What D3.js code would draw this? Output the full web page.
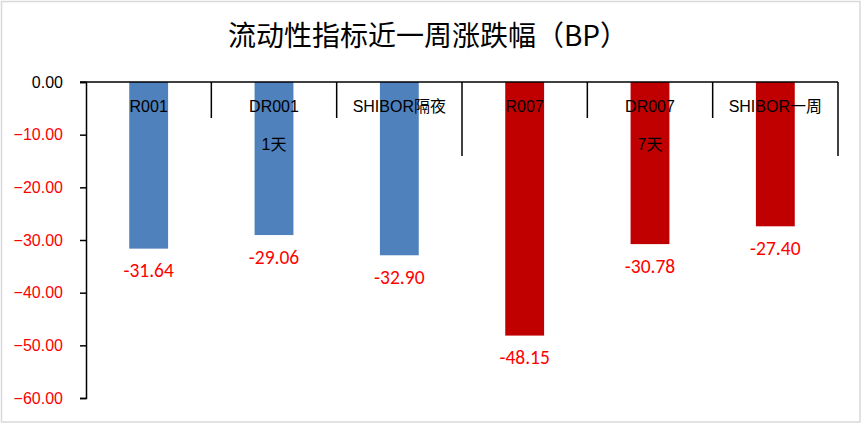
<!DOCTYPE html>
<html><head><meta charset="utf-8">
<script src="https://cdn.jsdelivr.net/npm/d3@7/dist/d3.min.js"></script>
<style>
html,body{margin:0;padding:0;background:#fff;}
svg{display:block;}
</style>
</head><body>
<svg id="chart" width="862" height="424"></svg>
<script>
const title = "流动性指标近一周涨跌幅（BP）";
const categories = ["R001", "DR001 1天", "SHIBOR隔夜", "R007", "DR007 7天", "SHIBOR一周"];
const values = [-31.64, -29.06, -32.90, -48.15, -30.78, -27.40];
const barColors = ["#4F81BD", "#4F81BD", "#4F81BD", "#C00000", "#C00000", "#C00000"];
const yTicks = [0, -10, -20, -30, -40, -50, -60];
const tallTickIdx = [3, 6];

const W = 862, H = 424;
const m = {left: 86, right: 24, top: 82, bottom: 26};
const svg = d3.select("#chart");

svg.append("rect").attr("x", 1.5).attr("y", 1.5).attr("width", W - 3.5).attr("height", H - 3.5)
  .attr("fill", "#fff").attr("stroke", "#d9d9d9").attr("stroke-width", 1.5);

svg.append("text").attr("x", 428).attr("y", 46).attr("text-anchor", "middle")
  .attr("font-family", "'Noto Sans CJK SC', sans-serif").attr("font-size", 28).attr("fill", "#000")
  .text(title);

const x = d3.scaleBand().domain(categories).range([m.left, W - m.right]).padding(0);
const y = d3.scaleLinear().domain([0, -60]).range([m.top, H - m.bottom]);
const bw = x.bandwidth() * 0.31;

// bars
svg.append("g").selectAll("rect").data(categories).join("rect")
  .attr("x", (d) => x(d) + (x.bandwidth() - bw) / 2)
  .attr("y", y(0))
  .attr("width", bw)
  .attr("height", (d, i) => y(values[i]) - y(0))
  .attr("fill", (d, i) => barColors[i]);

// value labels
svg.append("g").selectAll("text").data(categories).join("text")
  .attr("x", (d) => x(d) + x.bandwidth() / 2)
  .attr("y", (d, i) => y(values[i]) + 28.5)
  .attr("text-anchor", "middle")
  .attr("font-family", "Carlito, 'Liberation Sans', Arial, sans-serif")
  .attr("font-size", 19.5).attr("fill", "#FF0000")
  .text((d, i) => values[i].toFixed(2));

// y axis
const yAxis = d3.axisLeft(y).tickValues(yTicks).tickFormat(d3.format(".2f")).tickSize(6).tickPadding(17);
const ga = svg.append("g").attr("transform", `translate(${m.left},0)`).call(yAxis);
ga.select(".domain").attr("stroke", "#000").attr("stroke-width", 1.5);
ga.selectAll(".tick line").attr("stroke", "#000").attr("stroke-width", 1.5);
ga.selectAll(".tick text")
  .attr("font-family", "'Liberation Sans', Arial, sans-serif").attr("font-size", 16)
  .attr("fill", (d) => d === 0 ? "#000" : "#FF0000");

// x axis line at zero
svg.append("line").attr("x1", m.left - 6).attr("x2", W - m.right)
  .attr("y1", y(0)).attr("y2", y(0)).attr("stroke", "#000").attr("stroke-width", 1.5);

// category boundary ticks
const bounds = d3.range(1, categories.length + 1);
svg.append("g").selectAll("line").data(bounds).join("line")
  .attr("x1", (i) => m.left + i * x.bandwidth())
  .attr("x2", (i) => m.left + i * x.bandwidth())
  .attr("y1", y(0))
  .attr("y2", (i) => tallTickIdx.includes(i) ? y(0) + 74 : y(0) + 36)
  .attr("stroke", "#000").attr("stroke-width", 1.5);

// category labels
const cg = svg.append("g");
categories.forEach((c) => {
  const lines = c.split(" ");
  lines.forEach((ln, j) => {
    cg.append("text").attr("x", x(c) + x.bandwidth() / 2).attr("y", 112 + j * 38)
      .attr("text-anchor", "middle")
      .attr("font-family", "'Liberation Sans', 'Noto Sans CJK SC', sans-serif")
      .attr("font-size", 16).attr("fill", "#000").text(ln);
  });
});
</script>
</body></html>
